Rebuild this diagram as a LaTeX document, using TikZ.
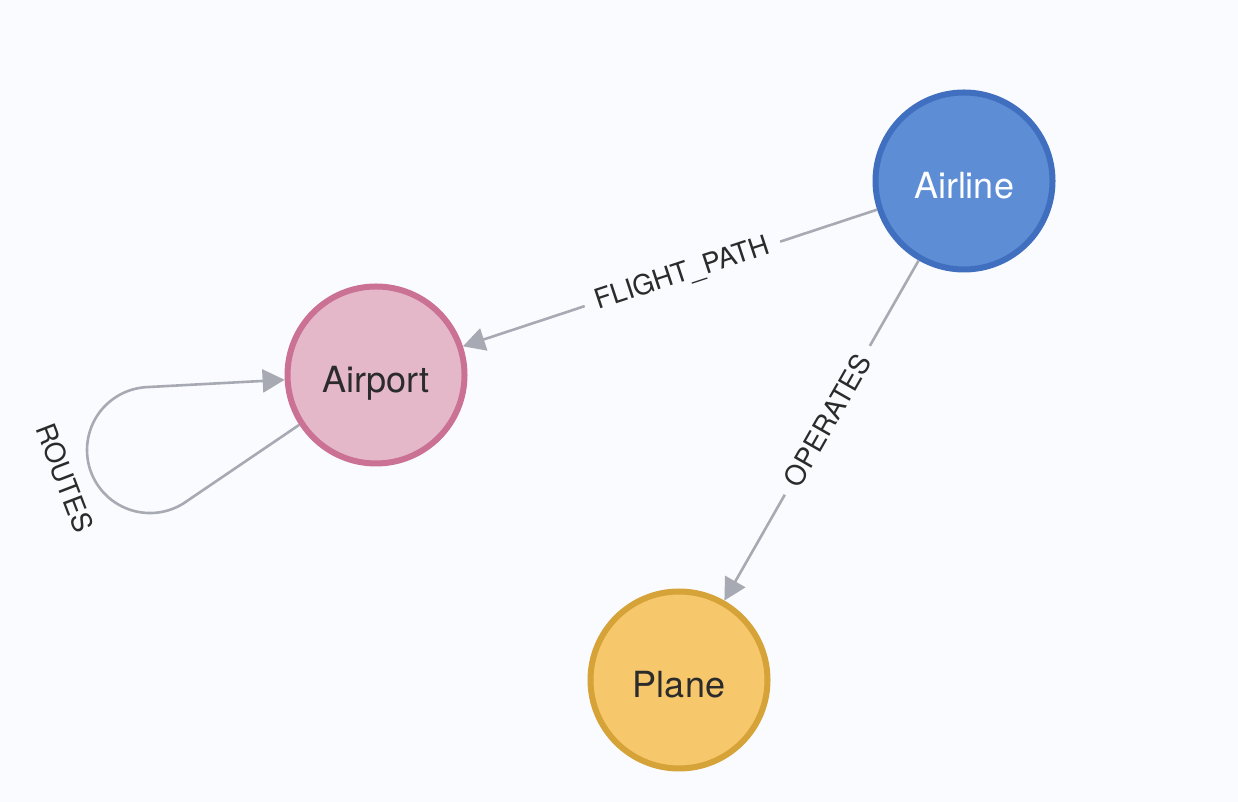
\documentclass[tikz,border=0pt]{standalone}
\usepackage{fontspec}
\setmainfont{TeX Gyre Heros}
\usetikzlibrary{arrows.meta}
\definecolor{bg}{HTML}{FAFBFE}
\definecolor{edgegray}{HTML}{A8AAB3}
\definecolor{airlinefill}{HTML}{5C8DD5}
\definecolor{airlinedraw}{HTML}{416FBF}
\definecolor{airportfill}{HTML}{E4B7C9}
\definecolor{airportdraw}{HTML}{CA7194}
\definecolor{planefill}{HTML}{F6C76B}
\definecolor{planedraw}{HTML}{D5A338}
\definecolor{txt}{HTML}{2B2B2B}
\tikzset{
  entity/.style={circle, minimum size=177pt, inner sep=0pt, line width=6pt,
    font=\fontsize{36}{42}\selectfont, text=txt, text height=36pt, text depth=0pt},
  edge/.style={draw=edgegray, line width=2.6pt,
    -{Triangle[length=22pt,width=23pt]}},
  elabel/.style={font=\fontsize{27.5}{32}\selectfont, text=txt, fill=bg,
    inner xsep=12pt, inner ysep=3pt}
}
\begin{document}
\begin{tikzpicture}[x=1pt,y=1pt]
\useasboundingbox[fill=bg] (0,0) rectangle (1238,802);
\node[entity, fill=airlinefill, draw=airlinedraw, text=white] (airline) at (964,621) {Airline};
\node[entity, fill=airportfill, draw=airportdraw] (airport) at (376,427) {Airport};
\node[entity, fill=planefill, draw=planedraw] (plane) at (679,122) {Plane};
\draw[edge] (airline) -- node[elabel, pos=0.47, sloped] (fp) {FLIGHT\_PATH} (airport);
\draw[edge] (airline) -- node[elabel, pos=0.47, sloped] (op) {OPERATES} (plane);
\coordinate (loopA) at (183.5,298.6);
\draw[edge] (airport.213.7) -- (loopA) arc[start angle=-57.9, end angle=-266.6, radius=63] -- (airport.183);
\node[elabel, fill=none, rotate=-69] (routes) at (65,324) {ROUTES};
\end{tikzpicture}
\end{document}
